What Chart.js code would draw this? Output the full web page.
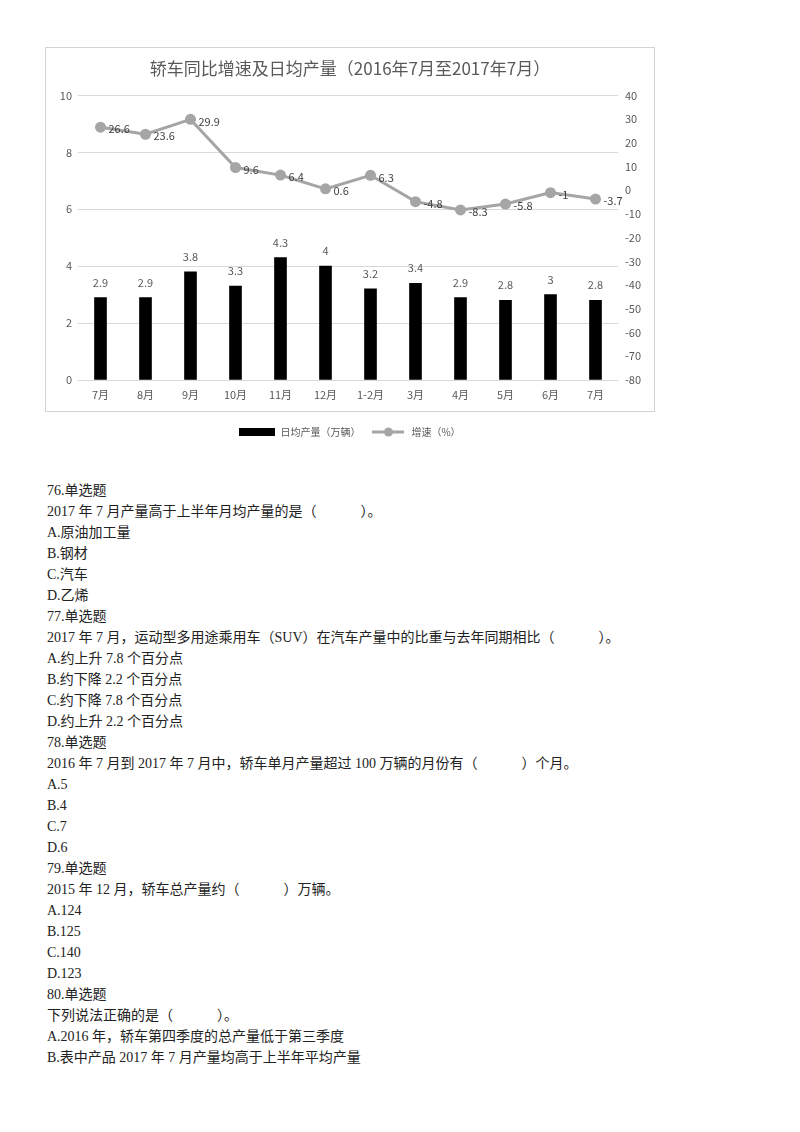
<!DOCTYPE html>
<html>
<head>
<meta charset="utf-8">
<script src="https://cdn.jsdelivr.net/npm/chart.js@4/dist/chart.umd.min.js"></script>
<style>
  body { margin: 0; background: #fff; }
  #box { position: absolute; left: 45px; top: 47px; width: 610px; height: 400px; }
  #qs {
    position: absolute; left: 47px; top: 480px;
    font-family: "Liberation Serif", "Noto Sans CJK SC", serif;
    font-size: 14px; line-height: 21px; color: #222;
  }
  .gap { display: inline-block; width: 44px; }
</style>
</head>
<body>
<div id="box"><canvas id="myChart"></canvas></div>

<div id="qs">
  <div>76.单选题</div>
  <div>2017 年 7 月产量高于上半年月均产量的是（<span class="gap"></span>）。</div>
  <div>A.原油加工量</div>
  <div>B.钢材</div>
  <div>C.汽车</div>
  <div>D.乙烯</div>
  <div>77.单选题</div>
  <div>2017 年 7 月，运动型多用途乘用车（SUV）在汽车产量中的比重与去年同期相比（<span class="gap"></span>）。</div>
  <div>A.约上升 7.8 个百分点</div>
  <div>B.约下降 2.2 个百分点</div>
  <div>C.约下降 7.8 个百分点</div>
  <div>D.约上升 2.2 个百分点</div>
  <div>78.单选题</div>
  <div>2016 年 7 月到 2017 年 7 月中，轿车单月产量超过 100 万辆的月份有（<span class="gap"></span>）个月。</div>
  <div>A.5</div>
  <div>B.4</div>
  <div>C.7</div>
  <div>D.6</div>
  <div>79.单选题</div>
  <div>2015 年 12 月，轿车总产量约（<span class="gap"></span>）万辆。</div>
  <div>A.124</div>
  <div>B.125</div>
  <div>C.140</div>
  <div>D.123</div>
  <div>80.单选题</div>
  <div>下列说法正确的是（<span class="gap"></span>）。</div>
  <div>A.2016 年，轿车第四季度的总产量低于第三季度</div>
  <div>B.表中产品 2017 年 7 月产量均高于上半年平均产量</div>
</div>

<script>
const months = ['7月', '8月', '9月', '10月', '11月', '12月', '1-2月', '3月', '4月', '5月', '6月', '7月'];
const dailyOutput = [2.9, 2.9, 3.8, 3.3, 4.3, 4, 3.2, 3.4, 2.9, 2.8, 3, 2.8];
const growthRate = [26.6, 23.6, 29.9, 9.6, 6.4, 0.6, 6.3, -4.8, -8.3, -5.8, -1, -3.7];
const leftTicks = [0, 2, 4, 6, 8, 10];
const rightTicks = [-80, -70, -60, -50, -40, -30, -20, -10, 0, 10, 20, 30, 40];

const GREY_LINE = '#a5a5a5';
const TEXT = '#595959';

Chart.defaults.font.family = "'Noto Sans CJK SC', sans-serif";

// legend markers
const barMark = document.createElement('canvas');
barMark.width = 36; barMark.height = 8;
let c = barMark.getContext('2d');
c.fillStyle = '#000';
c.fillRect(0, 0, 36, 8);

const lineMark = document.createElement('canvas');
lineMark.width = 32; lineMark.height = 10;
c = lineMark.getContext('2d');
c.strokeStyle = GREY_LINE; c.lineWidth = 3;
c.beginPath(); c.moveTo(0, 5); c.lineTo(32, 5); c.stroke();
c.fillStyle = GREY_LINE;
c.beginPath(); c.arc(16, 5, 4.5, 0, Math.PI * 2); c.fill();

const frame = {
  id: 'frame',
  beforeDraw(chart) {
    const ctx = chart.ctx;
    ctx.save();
    ctx.strokeStyle = '#d4d4d4';
    ctx.lineWidth = 1;
    ctx.strokeRect(0.5, 0.5, chart.width - 1, chart.legend.top - 6);
    ctx.restore();
  }
};

const valueLabels = {
  id: 'valueLabels',
  afterDatasetsDraw(chart) {
    const ctx = chart.ctx;
    ctx.save();
    ctx.font = "11px 'Noto Sans CJK SC', sans-serif";
    chart.data.datasets.forEach((ds, i) => {
      const meta = chart.getDatasetMeta(i);
      meta.data.forEach((el, j) => {
        const txt = String(ds.data[j]);
        if (ds.type === 'bar') {
          ctx.fillStyle = TEXT;
          ctx.textAlign = 'center';
          ctx.textBaseline = 'middle';
          ctx.fillText(txt, el.x, el.y - 15);
        } else {
          ctx.fillStyle = '#404040';
          ctx.textAlign = 'left';
          ctx.textBaseline = 'middle';
          ctx.fillText(txt, el.x + 8, el.y + 2);
        }
      });
    });
    ctx.restore();
  }
};

new Chart(document.getElementById('myChart'), {
  data: {
    labels: months,
    datasets: [
      {
        type: 'line',
        label: '增速（%）',
        data: growthRate,
        yAxisID: 'y1',
        borderColor: GREY_LINE,
        backgroundColor: GREY_LINE,
        borderWidth: 3,
        pointRadius: 5.5,
        pointBackgroundColor: GREY_LINE,
        pointBorderWidth: 0,
        tension: 0,
        order: 0
      },
      {
        type: 'bar',
        label: '日均产量（万辆）',
        data: dailyOutput,
        yAxisID: 'y',
        backgroundColor: '#000',
        barThickness: 12,
        order: 1
      }
    ]
  },
  options: {
    responsive: true,
    maintainAspectRatio: false,
    animation: false,
    layout: { padding: 0 },
    plugins: {
      title: {
        display: true,
        text: '轿车同比增速及日均产量（2016年7月至2017年7月）',
        color: TEXT,
        font: { size: 17, weight: 'normal' },
        padding: { top: 11, bottom: 17 }
      },
      legend: {
        position: 'bottom',
        labels: {
          color: TEXT,
          font: { size: 10 },
          usePointStyle: true,
          pointStyleWidth: 36,
          padding: 10,
          generateLabels: () => [
            { text: '日均产量（万辆）', pointStyle: barMark, fontColor: TEXT, lineWidth: 0, datasetIndex: 1 },
            { text: '增速（%）', pointStyle: lineMark, fontColor: TEXT, lineWidth: 0, datasetIndex: 0 }
          ]
        }
      },
      tooltip: { enabled: false }
    },
    scales: {
      x: {
        offset: true,
        grid: { display: false, drawTicks: false },
        border: { display: false },
        ticks: { color: TEXT, font: { size: 11 }, padding: 8 },
        afterFit: s => { s.height = 37; }
      },
      y: {
        position: 'left',
        min: 0, max: 10,
        afterBuildTicks: s => { s.ticks = leftTicks.map(v => ({ value: v })); },
        grid: { color: '#d9d9d9', drawTicks: false },
        border: { display: false },
        ticks: { color: TEXT, font: { size: 11 }, padding: 6 },
        afterFit: s => { s.width = 33; }
      },
      y1: {
        position: 'right',
        min: -80, max: 40,
        afterBuildTicks: s => { s.ticks = rightTicks.map(v => ({ value: v })); },
        grid: { display: false, drawTicks: false },
        border: { display: false },
        ticks: { color: TEXT, font: { size: 11 }, padding: 7 },
        afterFit: s => { s.width = 37; }
      }
    }
  },
  plugins: [frame, valueLabels]
});
</script>
</body>
</html>
